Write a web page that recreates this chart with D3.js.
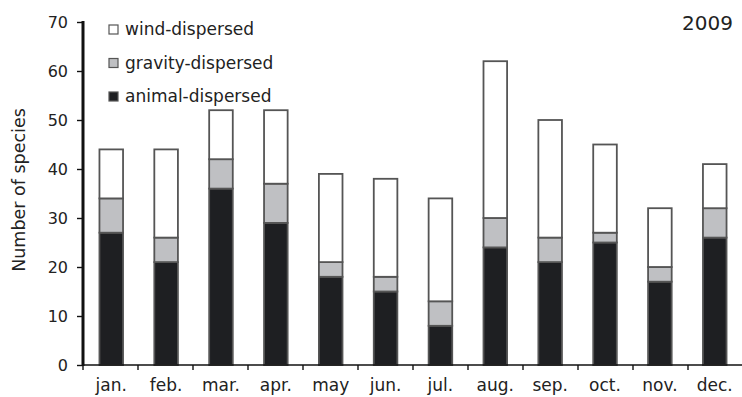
<!DOCTYPE html>
<html>
<head>
<meta charset="utf-8">
<script src="https://cdn.jsdelivr.net/npm/d3@7"></script>
<style>
  body { margin: 0; background: #fff; }
  svg text { font-family: "DejaVu Sans", sans-serif; fill: #222; }
</style>
</head>
<body>
<svg id="chart" width="742" height="397"></svg>
<script>
const months = ["jan.", "feb.", "mar.", "apr.", "may", "jun.", "jul.", "aug.", "sep.", "oct.", "nov.", "dec."]
const animal  = [27, 21, 36, 29, 18, 15, 8, 24, 21, 25, 17, 26]
const gravity = [7, 5, 6, 8, 3, 3, 5, 6, 5, 2, 3, 6]
const wind    = [10, 18, 10, 15, 18, 20, 21, 32, 24, 18, 12, 9]
const yTicks  = [0, 10, 20, 30, 40, 50, 60, 70]

const series = [
  { key: "animal",  label: "animal-dispersed",  fill: "#1e1f22", values: animal },
  { key: "gravity", label: "gravity-dispersed", fill: "#bfc0c3", values: gravity },
  { key: "wind",    label: "wind-dispersed",    fill: "#ffffff", values: wind }
]

const margin = { top: 22, left: 83, bottom: 32, right: 0 }
const width = 742, height = 397

const svg = d3.select("#chart")

const x = d3.scaleBand()
  .domain(months)
  .range([margin.left, margin.left + 12 * 55])
  .paddingInner(0.57)
  .paddingOuter(0.3)

const y = d3.scaleLinear()
  .domain([0, 70])
  .range([height - margin.bottom, margin.top])

// stack
const rows = months.map((m, i) => ({ month: m, animal: animal[i], gravity: gravity[i], wind: wind[i] }))
const stacked = d3.stack().keys(series.map(s => s.key))(rows)

svg.append("g")
  .selectAll("g")
  .data(stacked)
  .enter().append("g")
  .style("fill", (d, i) => series[i].fill)
  .selectAll("rect")
  .data(d => d)
  .enter().append("rect")
  .attr("x", d => x(d.data.month))
  .attr("width", x.bandwidth())
  .attr("y", d => y(d[1]))
  .attr("height", d => y(d[0]) - y(d[1]))
  .attr("stroke", "#555")
  .attr("stroke-width", 1.8)

// x axis: line with ticks at band boundaries
const xAxis = svg.append("g")
xAxis.append("line")
  .attr("x1", margin.left).attr("x2", width)
  .attr("y1", y(0)).attr("y2", y(0))
  .attr("stroke", "#111").attr("stroke-width", 1.6)
xAxis.selectAll(".tk")
  .data(d3.range(13))
  .enter().append("line")
  .attr("x1", i => margin.left + i * 55).attr("x2", i => margin.left + i * 55)
  .attr("y1", y(0)).attr("y2", y(0) + 5)
  .attr("stroke", "#111").attr("stroke-width", 1.4)
xAxis.selectAll("text")
  .data(months)
  .enter().append("text")
  .attr("x", d => x(d) + x.bandwidth() / 2)
  .attr("y", y(0) + 26)
  .attr("text-anchor", "middle")
  .attr("font-size", 17)
  .text(d => d)

// y axis
const yAxis = svg.append("g")
  .attr("transform", `translate(${margin.left},0)`)
  .call(d3.axisLeft(y).tickValues(yTicks).tickSize(6).tickPadding(9))
yAxis.select(".domain").remove()
yAxis.selectAll(".tick line").attr("stroke", "#111").attr("stroke-width", 1.4)
yAxis.selectAll(".tick text").attr("font-size", 16).attr("fill", "#222")
  .style("font-family", "'DejaVu Sans', sans-serif")
svg.append("line")
  .attr("x1", margin.left).attr("x2", margin.left)
  .attr("y1", y(70) - 1).attr("y2", y(0) + 1)
  .attr("stroke", "#111").attr("stroke-width", 3)

svg.append("text")
  .attr("transform", `translate(25,190) rotate(-90)`)
  .attr("text-anchor", "middle")
  .attr("font-size", 17.5)
  .text("Number of species")

// legend
const legend = svg.append("g")
  .selectAll("g")
  .data(series.slice().reverse())
  .enter().append("g")
  .attr("transform", (d, i) => `translate(109,${35 + i * 33.5})`)
legend.append("rect")
  .attr("x", 0).attr("y", -10).attr("width", 9).attr("height", 9)
  .attr("fill", d => d.fill)
  .attr("stroke", "#555").attr("stroke-width", 1.2)
legend.append("text")
  .attr("x", 16).attr("y", 0)
  .attr("font-size", 17)
  .text(d => d.label)

svg.append("text")
  .attr("x", 733).attr("y", 30)
  .attr("text-anchor", "end")
  .attr("font-size", 20)
  .text("2009")
</script>
</body>
</html>
